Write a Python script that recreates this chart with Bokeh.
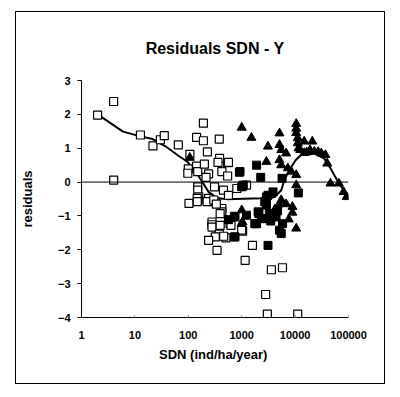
from bokeh.plotting import figure
from bokeh.models import Span, FixedTicker
from bokeh.embed import file_html
from bokeh.resources import INLINE

# ---- data ----
open_x = [2, 4, 4, 12.7, 21.8, 30, 35.5, 65, 107, 192, 143, 192, 380, 228, 100, 98, 143, 150, 200, 240,
          215, 385, 545, 425, 545, 150, 150, 157, 153, 103, 240, 310, 320, 455, 565, 425, 425, 395, 605,
          278, 278, 278, 395, 380, 320, 240, 505, 1040, 345, 630, 1590, 1160, 3600, 5800, 2800, 3020, 11200,
          810, 1230, 360, 565, 1000, 147, 147, 225, 300, 335, 460]
open_y = [1.98, 2.38, 0.06, 1.39, 1.07, 1.25, 1.37, 1.10, 0.82, 1.74, 1.32, 1.22, 1.27, 0.89, 0.39, 0.26, 0.47, 0.31, 0.53, 0.24,
          0.14, 0.70, 0.57, 0.31, 0.18, -0.14, -0.24, -0.44, -0.53, -0.63, -0.48, -0.14, -0.58, -0.24, -0.39, -0.78, -0.88, -0.93, -1.23,
          -1.18, -1.26, -1.33, -1.28, -1.54, -1.62, -1.72, -1.65, -1.45, -2.02, -1.28, -1.87, -2.31, -2.59, -2.53, -3.32, -3.90, -3.90,
          -0.19, -0.09, 0.58, 0.58, -1.42, -0.48, -0.58, -0.58, -0.53, -0.65, -1.60]

filled_x = [906, 1040, 930, 1900, 2270, 1000, 1070, 2900, 3860, 5700, 11500, 2100, 750, 1900, 5500, 750, 3110,
            3110, 2700, 2900, 2030, 1760, 2330, 2900, 3300, 3860, 4400, 5830, 5100, 565, 730, 730, 1230, 3500, 4700]
filled_y = [0.29, -0.12, 0.31, 0.50, 0.14, -0.14, -0.09, -0.44, -0.29, 0.11, -0.32, -0.93, -1.03, -1.23, -1.52, -1.62, -1.87,
            -0.39, -0.58, -0.68, -0.88, -1.23, -1.08, -1.08, -0.93, -0.98, -1.03, -1.23, -1.42, -1.11, -1.01, -1.62, -0.98, -1.15, -0.85]

tri_x = [107, 1000, 1520, 5100, 10500, 10500, 10500, 11200, 11200, 11600, 3100, 5100, 5500, 6800, 14800, 21000,
         2900, 5100, 5500, 7300, 8500, 10500, 10500, 14900, 19000, 23000, 27000, 31000, 37000, 40000, 12500, 16500,
         46000, 66000, 81000, 92000, 1000, 1000, 1030, 5100, 6800, 8900, 10500, 5500, 8900, 4200, 7600]
tri_y = [0.72, 1.61, 1.31, 1.44, 1.72, 1.58, 1.45, 1.30, 1.15, 1.00, 1.05, 1.10, 0.95, 0.85, 1.20, 1.20,
         0.60, 0.65, 0.50, 0.41, 0.31, 0.21, -0.09, 0.86, 0.95, 0.90, 0.89, 0.85, 0.80, 0.55, 0.95, 0.88,
         -0.04, -0.04, -0.29, -0.44, -0.83, -1.23, -1.18, -0.65, -0.65, -0.73, -1.37, -0.53, -0.90, -0.80, -1.10]

smooth_x = [2, 6, 12.7, 21.5, 38, 62.5, 96, 137, 182, 240, 345, 565, 750, 2330, 4120, 5500, 6300, 7800,
            10300, 12900, 22700, 35000, 46000, 61000, 81000, 100000]
smooth_y = [2.0, 1.49, 1.35, 1.27, 1.05, 0.80, 0.60, 0.31, 0.01, -0.29, -0.48, -0.51, -0.50, -0.48, -0.44, -0.24, 0.06, 0.36,
            0.65, 0.80, 0.85, 0.70, 0.41, 0.06, -0.24, -0.50]

x_ticks = [1, 10, 100, 1000, 10000, 100000]
x_tick_labels = ["1", "10", "100", "1000", "10000", "100000"]
y_ticks = [-4, -3, -2, -1, 0, 1, 2, 3]

FONT = "Liberation Sans"

p = figure(width=370, height=373, x_axis_type="log", x_range=(1, 100000), y_range=(-4, 3),
           output_backend="svg", toolbar_location=None,
           min_border_left=62, min_border_right=38, min_border_top=68, min_border_bottom=68,
           title="Residuals SDN - Y")
p.styles = {"margin-left": "15px", "margin-top": "11px", "border": "1px solid black"}

p.outline_line_color = None
p.xgrid.visible = False
p.ygrid.visible = False

p.title.align = "center"
p.title.text_font = FONT
p.title.text_font_size = "16px"
p.title.text_font_style = "bold"
p.title.text_color = "black"
p.title.standoff = 47

p.xaxis.ticker = FixedTicker(ticks=x_ticks)
p.xaxis.major_label_overrides = {t: l for t, l in zip(x_ticks, x_tick_labels)}
p.xaxis.minor_tick_line_color = None
p.xaxis.major_tick_in = 3
p.xaxis.major_tick_out = 0
p.xaxis.major_tick_line_color = "#aaaaaa"
p.xaxis.major_label_standoff = 13
p.xaxis.axis_label = "SDN  (ind/ha/year)"
p.xaxis.axis_label_standoff = 5

p.yaxis.ticker = FixedTicker(ticks=y_ticks)
p.yaxis.minor_tick_line_color = None
p.yaxis.major_tick_in = 0
p.yaxis.major_tick_out = 4
p.yaxis.major_label_standoff = 7
p.yaxis.axis_label = "residuals"
p.yaxis.axis_label_standoff = 20

for ax in (p.xaxis, p.yaxis):
    ax.axis_line_color = "black"
    ax.major_label_text_font = FONT
    ax.major_label_text_font_size = "11px"
    ax.major_label_text_font_style = "bold"
    ax.major_label_text_color = "black"
    ax.axis_label_text_font = FONT
    ax.axis_label_text_font_size = "13px"
    ax.axis_label_text_font_style = "bold"
    ax.axis_label_text_color = "black"

p.add_layout(Span(location=0, dimension="width", line_color="black", line_width=1))

p.line(smooth_x, smooth_y, line_color="black", line_width=2)
p.scatter(open_x, open_y, marker="square", size=8, fill_color="white", line_color="black", line_width=1.2)
p.scatter(filled_x, filled_y, marker="square", size=8, fill_color="black", line_color="black")
p.scatter(tri_x, tri_y, marker="triangle", size=9, fill_color="black", line_color="black")

open("out.html", "w").write(file_html(p, INLINE))
